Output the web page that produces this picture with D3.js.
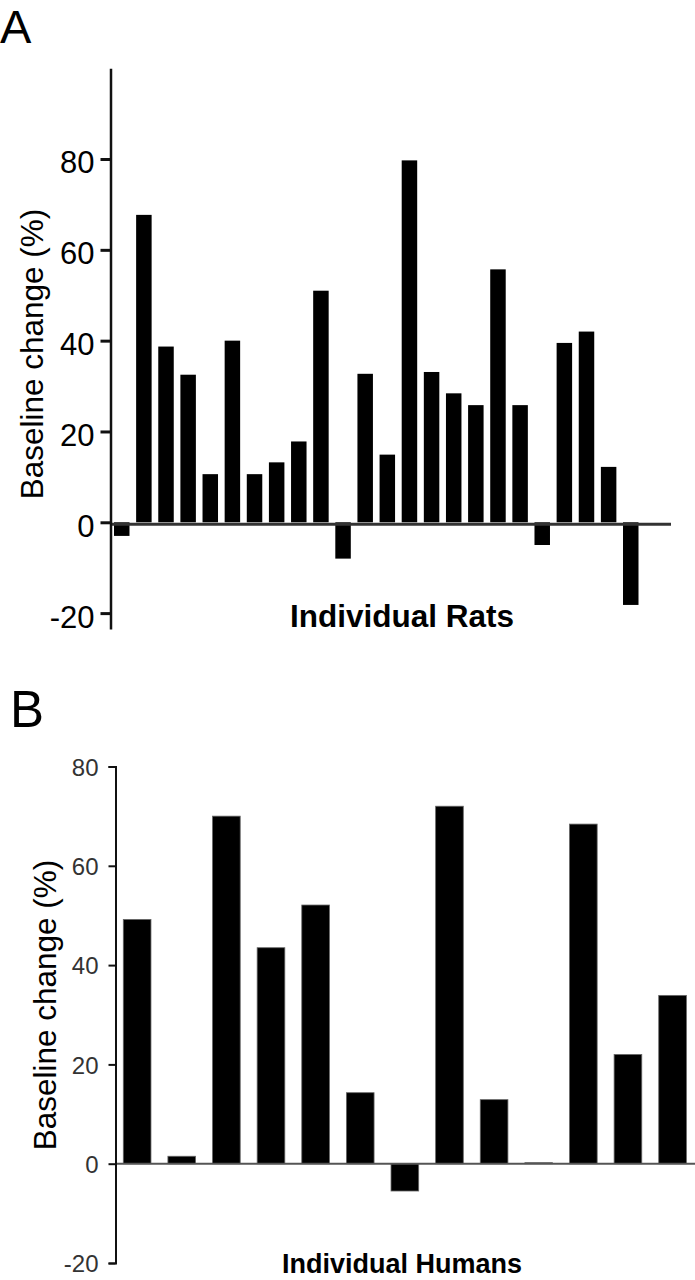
<!DOCTYPE html>
<html>
<head>
<meta charset="utf-8">
<script src="https://cdn.jsdelivr.net/npm/d3@7"></script>
<style>
  html, body { margin: 0; padding: 0; background: #fff; }
  svg { display: block; }
  text { font-family: "Liberation Sans", Arial, sans-serif; }
</style>
</head>
<body>
<svg id="chart" width="695" height="1280"></svg>
<script>
// ---- Data ----
const ratIds = d3.range(1, 25);
const ratValues = [-3.0, 67.7, 38.7, 32.5, 10.6, 40.0, 10.6, 13.2, 17.8, 51.0, -8.0, 32.7,
                   14.9, 79.7, 33.1, 28.4, 25.8, 55.7, 25.8, -5.0, 39.5, 42.0, 12.2, -18.2];
const ratTicks = [-20, 0, 20, 40, 60, 80];

const humanIds = d3.range(1, 14);
const humanValues = [49.2, 1.5, 70.0, 43.5, 52.1, 14.3, -5.5, 72.0, 12.9, 0.2, 68.4, 22.0, 33.9];
const humanTicks = [-20, 0, 20, 40, 60, 80];

const yLabel = "Baseline change (%)";
const xLabelA = "Individual Rats";
const xLabelB = "Individual Humans";

const fmt = d => String(d); // plain hyphen-minus as in the reference

const svg = d3.select("#chart");

// ================= Panel A =================
const gA = svg.append("g");
const xA = d3.scaleBand().domain(ratIds).range([114, 638.5]).paddingInner(0.3).paddingOuter(0);
const yA = d3.scaleLinear().domain([-23.5, 100]).range([629, 68.2]);

gA.append("text").attr("x", 0).attr("y", 43).attr("font-size", 47).attr("fill", "#000").text("A");

gA.selectAll("rect.bar").data(ratValues).join("rect")
  .attr("class", "bar")
  .attr("x", (d, i) => xA(ratIds[i]))
  .attr("width", xA.bandwidth())
  .attr("y", d => d >= 0 ? yA(d) : yA(0))
  .attr("height", d => Math.abs(yA(d) - yA(0)))
  .attr("fill", "#000");

gA.append("line")
  .attr("x1", 110).attr("x2", 671)
  .attr("y1", yA(0) + 2).attr("y2", yA(0) + 2)
  .attr("stroke", "#333").attr("stroke-width", 3);

const axA = gA.append("g").attr("transform", "translate(110.5,0)")
  .call(d3.axisLeft(yA).tickValues(ratTicks).tickSize(10).tickSizeOuter(0).tickPadding(6).tickFormat(fmt));
axA.select(".domain").attr("stroke", "#111").attr("stroke-width", 2.5);
axA.selectAll(".tick line").attr("stroke", "#111").attr("stroke-width", 3);
axA.selectAll(".tick text").attr("font-size", 31).attr("fill", "#000")
  .attr("font-family", "'Liberation Sans', Arial, sans-serif").attr("dy", "0.45em");

gA.append("text")
  .attr("transform", "translate(43,354) rotate(-90)")
  .attr("text-anchor", "middle").attr("font-size", 31.5).attr("fill", "#000")
  .text(yLabel);

gA.append("text")
  .attr("x", 402).attr("y", 626.5)
  .attr("text-anchor", "middle").attr("font-size", 31.5).attr("font-weight", "bold").attr("fill", "#000")
  .text(xLabelA);

// ================= Panel B =================
const gB = svg.append("g");
const xB = d3.scaleBand().domain(humanIds).range([123.3, 686.4]).paddingInner(0.38).paddingOuter(0);
const yB = d3.scaleLinear().domain([-20, 80]).range([1263, 766.5]);

gB.append("text").attr("x", 10).attr("y", 727).attr("font-size", 51).attr("fill", "#000").text("B");

gB.selectAll("rect.bar").data(humanValues).join("rect")
  .attr("class", "bar")
  .attr("x", (d, i) => xB(humanIds[i]))
  .attr("width", xB.bandwidth())
  .attr("y", d => d >= 0 ? yB(d) : yB(0))
  .attr("height", d => Math.abs(yB(d) - yB(0)))
  .attr("fill", "#000")
  .attr("stroke", "#666").attr("stroke-width", 0.8);

gB.append("line")
  .attr("x1", 115).attr("x2", 695)
  .attr("y1", yB(0)).attr("y2", yB(0))
  .attr("stroke", "#555").attr("stroke-width", 2);

const axB = gB.append("g").attr("transform", "translate(115.5,0)")
  .call(d3.axisLeft(yB).tickValues(humanTicks).tickSize(7).tickSizeOuter(7).tickPadding(10).tickFormat(fmt));
axB.select(".domain").attr("stroke", "#111").attr("stroke-width", 2);
axB.selectAll(".tick line").attr("stroke", "#111").attr("stroke-width", 2);
axB.selectAll(".tick text").attr("font-size", 24).attr("fill", "#333")
  .attr("font-family", "'Liberation Sans', Arial, sans-serif").attr("dy", "0.36em");

gB.append("text")
  .attr("transform", "translate(56,1005) rotate(-90)")
  .attr("text-anchor", "middle").attr("font-size", 31.5).attr("fill", "#000")
  .text(yLabel);

gB.append("text")
  .attr("x", 402).attr("y", 1273)
  .attr("text-anchor", "middle").attr("font-size", 27).attr("font-weight", "bold").attr("fill", "#000")
  .text(xLabelB);
</script>
</body>
</html>
